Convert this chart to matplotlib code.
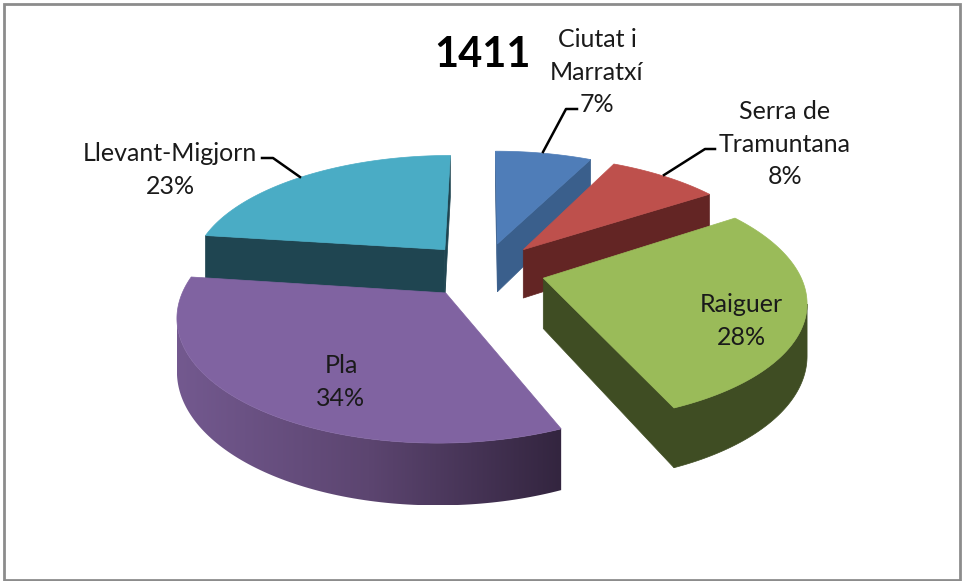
import numpy as np
import matplotlib
matplotlib.use('Agg')
import matplotlib.pyplot as plt
from matplotlib.patches import Polygon, Rectangle
from matplotlib.colors import LinearSegmentedColormap

plt.rcParams['font.family'] = ['Lato', 'DejaVu Sans']

title = '1411'
zones = ['Ciutat i\nMarratxí', 'Serra de\nTramuntana', 'Raiguer', 'Pla', 'Llevant-Migjorn']
# labels are rounded, slice edges suggest these unrounded shares
shares = [7.3, 8.4, 27.9, 33.5, 22.9]
top_colors = ['#4F7DB8', '#BE504C', '#9ABB59', '#8063A1', '#4AACC5']
wall_colors = ['#3A5F8C', '#632524', '#3F4D23', '#7B5E9C', '#1F4551']
shaded_zone = 3

# perspective of the pie, in picture pixels
cx, horizon, focal, height_k = 484, -422, 1275, 3460
eye_dist, explode, depth, z_scale = 5.0, 0.24, 0.072, 0.84


def project(x, z, lower=False):
    w = eye_dist + z * z_scale
    sy = height_k / w
    if lower:
        sy = sy * (1 + depth)
    return cx + focal * x / w, horizon + sy


def signed_area(pts):
    xs, ys = np.array(pts).T
    return 0.5 * np.sum(xs * np.roll(ys, -1) - np.roll(xs, -1) * ys)


fig = plt.figure(figsize=(9.63, 5.81), dpi=100)
ax = fig.add_axes([0, 0, 1, 1])
ax.axis('off')
ax.add_patch(Rectangle((3.5, 3.5), 956, 576, fc='white', ec='#8C8C8C', lw=2))

rim_cmap = LinearSegmentedColormap.from_list('rim', ['#73598F', '#5C4570', '#33253F'])

edges = np.cumsum([0] + shares) / sum(shares) * 2 * np.pi
slices = []
for i in range(len(shares)):
    a0, a1 = edges[i], edges[i + 1]
    mid = (a0 + a1) / 2
    ox, oz = explode * np.sin(mid), explode * np.cos(mid)
    ang = np.linspace(a0, a1, 120)
    slices.append((oz, i, ox, ang))

# far slices first so the near ones paint over them
for oz, i, ox, ang in sorted(slices, key=lambda s: -s[0]):
    rx = ox + np.sin(ang)
    rz = oz + np.cos(ang)
    top = [project(x, z) for x, z in zip(rx, rz)]
    low = [project(x, z, True) for x, z in zip(rx, rz)]
    apex_t = project(ox, oz)
    apex_l = project(ox, oz, True)

    # radial walls, only when they face the viewer
    for wall in ([apex_t, top[0], low[0], apex_l], [top[-1], apex_t, apex_l, low[-1]]):
        if signed_area(wall) < 0:
            ax.add_patch(Polygon(wall, fc=wall_colors[i], ec=wall_colors[i], lw=0.5))

    # rim part that faces the viewer
    front = [k for k in range(len(ang) - 1)
             if signed_area([top[k], top[k + 1], low[k + 1], low[k]]) < 0]
    if front:
        k0, k1 = front[0], front[-1] + 1
        rim = top[k0:k1 + 1] + low[k0:k1 + 1][::-1]
        if i == shaded_zone:
            patch = Polygon(rim, fc='none', ec='none')
            ax.add_patch(patch)
            xs = [p[0] for p in rim]
            ys = [p[1] for p in rim]
            im = ax.imshow(np.linspace(0, 1, 256)[None, :], cmap=rim_cmap, aspect='auto',
                           extent=[min(xs), max(xs), max(ys), min(ys)], zorder=patch.get_zorder())
            im.set_clip_path(patch)
        else:
            ax.add_patch(Polygon(rim, fc=wall_colors[i], ec=wall_colors[i], lw=0.5))

    ax.add_patch(Polygon([apex_t] + top, fc=top_colors[i], ec=top_colors[i], lw=0.5, zorder=2))

ax.set_xlim(0, 963)
ax.set_ylim(581, 0)

leader_lines = [([543, 566, 577], [152, 109, 109]),
                ([664, 705, 715], [175, 149, 149]),
                ([300, 273, 262], [177, 158, 158])]
for lx, ly in leader_lines:
    ax.plot(lx, ly, color='black', lw=1.8, solid_joinstyle='round', zorder=3)

ax.text(483, 55, title, fontsize=30, fontweight='bold', ha='center', va='center', color='black')

label_pos = [(597, 72), (785, 144), (741, 321), (341, 382), (170, 170)]
for name, share, (lx, ly) in zip(zones, shares, label_pos):
    ax.text(lx, ly, f'{name}\n{share:.0f}%', fontsize=18, ha='center', va='center',
            color='#1A1A1A', linespacing=1.52, zorder=4)

fig.savefig('out.png', dpi=100)
